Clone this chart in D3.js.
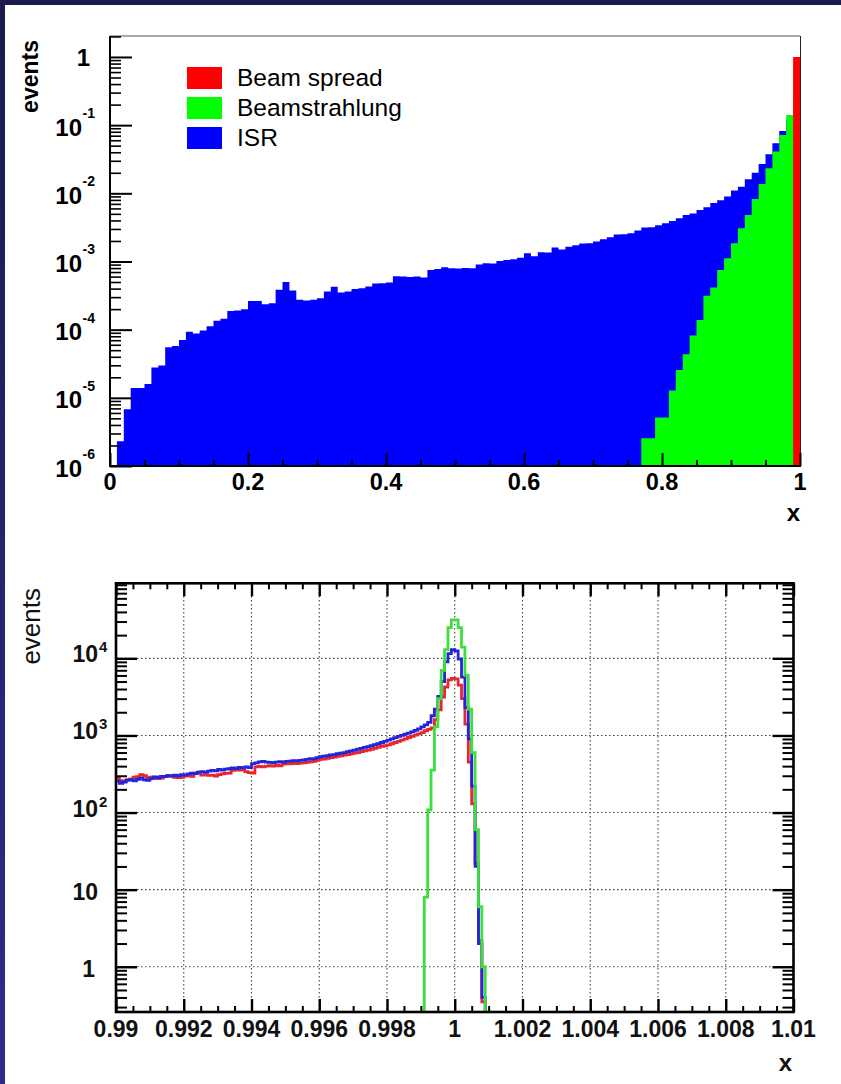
<!DOCTYPE html>
<html>
<head>
<meta charset="utf-8">
<script src="https://cdn.jsdelivr.net/npm/d3@7"></script>
<style>
  body { margin: 0; background: #fff; }
  svg { display: block; font-family: 'Liberation Sans', Arial, Helvetica, sans-serif; }
</style>
</head>
<body>
<div id="chart"></div>
<script>
'use strict';

// ---------- upper panel: 0.01 wide bins in x ----------
const topBinWidth = 0.01;

const isrStart = 0;
const isrValues = [
    0, 2.3e-6, 6.8e-6, 1.39e-5, 1.39e-5, 1.6e-5, 2.78e-5, 2.98e-5, 5.53e-5, 5.78e-5,
    7.08e-5, 9.29e-5, 8.77e-5, 9.7e-5, 1.12e-4, 1.35e-4, 1.44e-4, 1.87e-4, 1.91e-4, 2.0e-4,
    2.64e-4, 2.64e-4, 2.36e-4, 2.44e-4, 3.84e-4, 5.02e-4, 3.75e-4, 2.74e-4, 2.67e-4, 2.74e-4,
    2.9e-4, 3.62e-4, 4.25e-4, 3.5e-4, 3.62e-4, 3.96e-4, 4.05e-4, 4.28e-4, 4.74e-4, 4.8e-4,
    4.91e-4, 6.08e-4, 6.01e-4, 5.94e-4, 6.01e-4, 5.82e-4, 7.53e-4, 7.79e-4, 8.24e-4, 7.96e-4,
    7.87e-4, 8.05e-4, 7.96e-4, 9.01e-4, 9.44e-4, 9.33e-4, 1.02e-3, 1.05e-3, 1.08e-3, 1.13e-3,
    1.32e-3, 1.19e-3, 1.37e-3, 1.35e-3, 1.6e-3, 1.5e-3, 1.64e-3, 1.73e-3, 1.83e-3, 1.85e-3,
    1.96e-3, 2.12e-3, 2.27e-3, 2.48e-3, 2.51e-3, 2.6e-3, 2.84e-3, 3.14e-3, 3.18e-3, 3.4e-3,
    3.64e-3, 3.94e-3, 4.31e-3, 4.82e-3, 5.04e-3, 5.71e-3, 6.25e-3, 7.23e-3, 7.92e-3, 8.95e-3,
    1.1e-2, 1.25e-2, 1.61e-2, 2.01e-2, 2.7e-2, 3.74e-2, 5.42e-2, 8.22e-2, 0.12, 0.2
];

const beamstrahlungStart = 0.77;
const beamstrahlungValues = [
    2.56e-6, 2.56e-6, 5.14e-6, 5.14e-6, 1.28e-5, 2.57e-5, 4.37e-5, 8.2e-5, 1.38e-4, 3.13e-4,
    4.15e-4, 7.53e-4, 1.12e-3, 1.85e-3, 3.08e-3, 4.82e-3, 8.28e-3, 1.37e-2, 2.33e-2, 4.09e-2,
    7.18e-2, 0.141, 0.25
];

const beamSpreadStart = 0.99;
const beamSpreadValues = [1.0];

const legendLabels = ['Beam spread', 'Beamstrahlung', 'ISR'];
const topColors = ['#ff0000', '#00ff00', '#0000ff'];
const topXTicks = [0, 0.2, 0.4, 0.6, 0.8, 1];
const topXTickLabels = ['0', '0.2', '0.4', '0.6', '0.8', '1'];
const topYTicks = [1e-6, 1e-5, 1e-4, 1e-3, 1e-2, 1e-1, 1];

// ---------- lower panel: 0.0001 wide bins in x ----------
const lowBinWidth = 0.0001;

const redStart = 0.99;
const redValues = [
    277, 260, 256, 268, 272, 288, 292, 310, 302, 283,
    287, 280, 275, 279, 295, 300, 298, 287, 283, 286,
    296, 300, 294, 325, 330, 305, 308, 304, 305, 298,
    310, 318, 322, 325, 352, 358, 355, 360, 340, 330,
    326, 390, 398, 392, 400, 405, 400, 408, 402, 425,
    432, 428, 435, 430, 438, 440, 448, 455, 462, 475,
    488, 495, 505, 515, 525, 535, 545, 555, 565, 578,
    588, 600, 615, 630, 645, 660, 680, 700, 720, 735,
    755, 780, 810, 840, 870, 905, 940, 975, 1010, 1050,
    1090, 1150, 1200, 1250, 1600, 2150, 3150, 4250, 5250, 5500,
    5400, 4500, 3000, 1400, 450, 130, 22, 2.2, 0.35
];

const blueStart = 0.99;
const blueValues = [
    255, 240, 248, 262, 268, 258, 270, 280, 266, 262,
    275, 290, 285, 295, 292, 300, 296, 305, 300, 310,
    306, 318, 325, 320, 335, 340, 332, 345, 352, 348,
    362, 355, 365, 370, 378, 372, 385, 380, 390, 382,
    430, 440, 455, 462, 450, 448, 444, 452, 458, 452,
    462, 465, 470, 468, 476, 480, 490, 500, 498, 515,
    530, 538, 545, 560, 565, 580, 590, 600, 615, 630,
    645, 665, 680, 700, 715, 735, 760, 780, 810, 840,
    870, 900, 935, 970, 1000, 1040, 1070, 1110, 1160, 1220,
    1290, 1370, 1480, 1800, 2200, 3200, 5000, 9000, 11500, 13000,
    12500, 9800, 5700, 2300, 900, 220, 20, 2, 0.4
];

const greenStart = 0.9991;
const greenValues = [
    8, 108, 356, 1300, 3000, 7000, 13000, 25000, 31500, 31500,
    25000, 14000, 6000, 2200, 600, 60, 6, 1
];

const lowColors = { red: '#e8262e', blue: '#2424dc', green: '#3ce03c' };
const lowXTicks = [0.99, 0.992, 0.994, 0.996, 0.998, 1, 1.002, 1.004, 1.006, 1.008, 1.01];
const lowXTickLabels = ['0.99', '0.992', '0.994', '0.996', '0.998', '1', '1.002', '1.004', '1.006', '1.008', '1.01'];
const lowYTicks = [1, 10, 100, 1000, 10000];

// ---------- svg ----------
const W = 841, H = 1084;
const svg = d3.select('#chart').append('svg')
    .attr('width', W)
    .attr('height', H);

const defs = svg.append('defs');
const grad = defs.append('linearGradient')
    .attr('id', 'navy')
    .attr('x1', 0).attr('y1', 0).attr('x2', 0).attr('y2', 1);
grad.append('stop').attr('offset', 0).attr('stop-color', '#1b1a4e');
grad.append('stop').attr('offset', 1).attr('stop-color', '#2d2c8c');

svg.append('rect').attr('width', W).attr('height', H).attr('fill', '#fff');
svg.append('rect').attr('width', 5).attr('height', H).attr('fill', 'url(#navy)');
svg.append('rect').attr('width', W).attr('height', 5).attr('fill', '#1b1a4e');

// helpers
function logMinor(lo, hi) {
    const out = [];
    for (let e = Math.floor(Math.log10(lo)); e <= Math.ceil(Math.log10(hi)); e++) {
        for (let m = 2; m <= 9; m++) {
            const v = m * Math.pow(10, e);
            if (v >= lo && v <= hi) out.push(v);
        }
    }
    return out;
}

function tickAxis(gen, scale, values, size, width, transform) {
    const g = svg.append('g')
        .attr('transform', transform)
        .call(gen(scale).tickValues(values).tickSizeInner(size).tickSizeOuter(0).tickFormat(''));
    g.select('.domain').remove();
    g.selectAll('line').attr('stroke', '#000').attr('stroke-width', width);
    return g;
}

// filled step histogram (upper panel)
function fillPath(x, y, start, width, values) {
    const y0 = y.range()[0];
    const p = d3.path();
    p.moveTo(x(start), y0);
    values.forEach((v, i) => {
        const yy = v > 0 ? y(v) : y0;
        p.lineTo(x(start + i * width), yy);
        p.lineTo(x(start + (i + 1) * width), yy);
    });
    p.lineTo(x(start + values.length * width), y0);
    p.closePath();
    return p.toString();
}

// outline step histogram (lower panel)
function stepPath(x, y, start, width, values, fromBottom) {
    const y0 = y.range()[0];
    const p = d3.path();
    const first = values[0] > 0 ? y(values[0]) : y0;
    p.moveTo(x(start), fromBottom ? y0 : first);
    values.forEach((v, i) => {
        const yy = v > 0 ? Math.min(y(v), y0) : y0;
        p.lineTo(x(start + i * width), yy);
        p.lineTo(x(start + (i + 1) * width), yy);
    });
    p.lineTo(x(start + values.length * width), y0);
    return p.toString();
}

// ================= upper panel =================
const xTop = d3.scaleLinear().domain([0, 1]).range([110, 800]);
const yTop = d3.scaleLog().domain([1e-6, 2.03]).range([466, 36]);

defs.append('clipPath').attr('id', 'clipTop')
    .append('rect').attr('x', 110).attr('y', 36).attr('width', 690).attr('height', 430);

const topHists = svg.append('g').attr('clip-path', 'url(#clipTop)');
topHists.append('path')
    .attr('d', fillPath(xTop, yTop, isrStart, topBinWidth, isrValues))
    .attr('fill', topColors[2]);
topHists.append('path')
    .attr('d', fillPath(xTop, yTop, beamstrahlungStart, topBinWidth, beamstrahlungValues))
    .attr('fill', topColors[1]);
topHists.append('path')
    .attr('d', fillPath(xTop, yTop, beamSpreadStart, topBinWidth, beamSpreadValues))
    .attr('fill', topColors[0]);

// frame
svg.append('line').attr('x1', 110).attr('x2', 800).attr('y1', 36).attr('y2', 36)
    .attr('stroke', '#555').attr('stroke-width', 1);
svg.append('line').attr('x1', 800.5).attr('x2', 800.5).attr('y1', 36).attr('y2', 466)
    .attr('stroke', '#222').attr('stroke-width', 1);
svg.append('line').attr('x1', 110).attr('x2', 110).attr('y1', 36).attr('y2', 467)
    .attr('stroke', '#000').attr('stroke-width', 2);
svg.append('line').attr('x1', 109).attr('x2', 801).attr('y1', 466).attr('y2', 466)
    .attr('stroke', '#000').attr('stroke-width', 2);

// ticks
const topXMinor = d3.range(0, 1.0001, 0.05).filter(v => !topXTicks.some(t => Math.abs(t - v) < 1e-6));
tickAxis(d3.axisBottom, xTop, topXTicks, -13, 2, 'translate(0,466)');
tickAxis(d3.axisBottom, xTop, topXMinor, -6, 2, 'translate(0,466)');
tickAxis(d3.axisLeft, yTop, topYTicks, -22, 2, 'translate(110,0)');
tickAxis(d3.axisLeft, yTop, logMinor(1e-6, 2.03), -11, 1.6, 'translate(110,0)');

// tick labels
const topLab = svg.append('g').attr('font-weight', 'bold').attr('fill', '#000');
topXTicks.forEach((t, i) => {
    topLab.append('text')
        .attr('x', xTop(t)).attr('y', 490)
        .attr('text-anchor', 'middle')
        .attr('font-size', 23.5)
        .text(topXTickLabels[i]);
});
topYTicks.forEach(t => {
    const yy = yTop(t);
    const e = Math.round(Math.log10(t));
    if (e === 0) {
        topLab.append('text').attr('x', 90).attr('y', yy + 9.5)
            .attr('text-anchor', 'end').attr('font-size', 24).text('1');
    } else {
        topLab.append('text').attr('x', 82).attr('y', yy + 10.5)
            .attr('text-anchor', 'end').attr('font-size', 24).text('10');
        topLab.append('text').attr('x', 82.5).attr('y', yy - 7)
            .attr('font-size', 14).text(String(e));
    }
});

// axis titles
svg.append('text')
    .attr('transform', 'translate(38,40) rotate(-90)')
    .attr('text-anchor', 'end')
    .attr('font-size', 23).attr('font-weight', 'bold')
    .text('events');
svg.append('text')
    .attr('x', 800).attr('y', 521)
    .attr('text-anchor', 'end')
    .attr('font-size', 24).attr('font-weight', 'bold')
    .text('x');

// legend
const legend = svg.append('g');
legendLabels.forEach((name, i) => {
    legend.append('rect')
        .attr('x', 187).attr('y', 67 + i * 30)
        .attr('width', 35).attr('height', 22)
        .attr('fill', topColors[i]);
    legend.append('text')
        .attr('x', 237).attr('y', 86 + i * 30)
        .attr('font-size', 24.5)
        .text(name);
});

// ================= lower panel =================
const xLow = d3.scaleLinear().domain([0.99, 1.01]).range([116, 793.5]);
const yLow = d3.scaleLog().domain([0.259, 94000]).range([1012, 583.3]);

// grid
const grid = svg.append('g')
    .attr('stroke', '#444').attr('stroke-width', 1.1).attr('stroke-dasharray', '1.5,2.5');
lowXTicks.slice(1, -1).forEach(t => {
    grid.append('line').attr('x1', xLow(t)).attr('x2', xLow(t))
        .attr('y1', 584).attr('y2', 1011);
});
lowYTicks.forEach(t => {
    grid.append('line').attr('x1', 117).attr('x2', 792)
        .attr('y1', yLow(t)).attr('y2', yLow(t));
});

defs.append('clipPath').attr('id', 'clipLow')
    .append('rect').attr('x', 116).attr('y', 583.3).attr('width', 677.5).attr('height', 428.7);

const lowHists = svg.append('g').attr('clip-path', 'url(#clipLow)')
    .attr('fill', 'none').attr('stroke-width', 2.8).attr('stroke-linejoin', 'miter');
lowHists.append('path')
    .attr('d', stepPath(xLow, yLow, redStart, lowBinWidth, redValues, false))
    .attr('stroke', lowColors.red);
lowHists.append('path')
    .attr('d', stepPath(xLow, yLow, blueStart, lowBinWidth, blueValues, false))
    .attr('stroke', lowColors.blue);
lowHists.append('path')
    .attr('d', stepPath(xLow, yLow, greenStart, lowBinWidth, greenValues, true))
    .attr('stroke', lowColors.green);

// ticks on all four sides
const lowXMinor = d3.range(0, 41).map(i => 0.99 + i * 0.0005)
    .filter(v => !lowXTicks.some(t => Math.abs(t - v) < 1e-7));
const lowYMinor = logMinor(0.259, 94000);
tickAxis(d3.axisBottom, xLow, lowXTicks, -13, 2.4, 'translate(0,1012)');
tickAxis(d3.axisBottom, xLow, lowXMinor, -6, 2, 'translate(0,1012)');
tickAxis(d3.axisTop, xLow, lowXTicks, -13, 2.4, 'translate(0,583.3)');
tickAxis(d3.axisTop, xLow, lowXMinor, -6, 2, 'translate(0,583.3)');
tickAxis(d3.axisLeft, yLow, lowYTicks, -21, 2.4, 'translate(116,0)');
tickAxis(d3.axisLeft, yLow, lowYMinor, -11, 2, 'translate(116,0)');
tickAxis(d3.axisRight, yLow, lowYTicks, -21, 2.4, 'translate(793.5,0)');
tickAxis(d3.axisRight, yLow, lowYMinor, -11, 2, 'translate(793.5,0)');

svg.append('rect')
    .attr('x', 116).attr('y', 583.3).attr('width', 677.5).attr('height', 428.7)
    .attr('fill', 'none').attr('stroke', '#000').attr('stroke-width', 2.6);

// tick labels
const lowLab = svg.append('g').attr('font-weight', 'bold').attr('fill', '#111');
lowXTicks.forEach((t, i) => {
    lowLab.append('text')
        .attr('x', xLow(t)).attr('y', 1037)
        .attr('text-anchor', 'middle')
        .attr('font-size', 23)
        .text(lowXTickLabels[i]);
});
lowYTicks.forEach(t => {
    const yy = yLow(t);
    const e = Math.round(Math.log10(t));
    if (e === 0) {
        lowLab.append('text').attr('x', 95).attr('y', yy + 10)
            .attr('text-anchor', 'end').attr('font-size', 23).text('1');
    } else if (e === 1) {
        lowLab.append('text').attr('x', 98).attr('y', yy + 10)
            .attr('text-anchor', 'end').attr('font-size', 23).text('10');
    } else {
        lowLab.append('text').attr('x', 98).attr('y', yy + 4)
            .attr('text-anchor', 'end').attr('font-size', 23).text('10');
        lowLab.append('text').attr('x', 99).attr('y', yy - 6)
            .attr('font-size', 15).text(String(e));
    }
});

svg.append('text')
    .attr('transform', 'translate(40,588) rotate(-90)')
    .attr('text-anchor', 'end')
    .attr('font-size', 26)
    .attr('fill', '#111')
    .text('events');
svg.append('text')
    .attr('x', 792).attr('y', 1071)
    .attr('text-anchor', 'end')
    .attr('font-size', 24).attr('font-weight', 'bold')
    .attr('fill', '#111')
    .text('x');
</script>
</body>
</html>
